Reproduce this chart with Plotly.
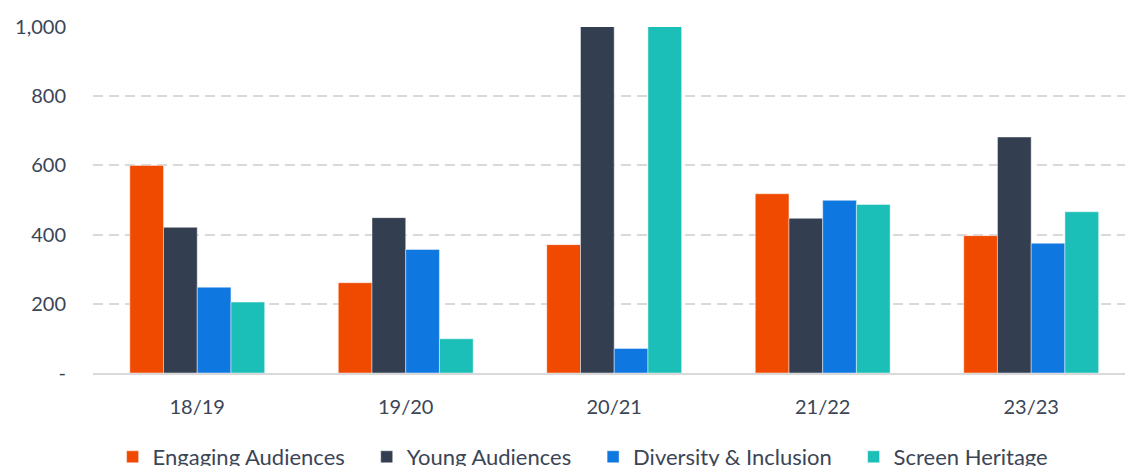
import plotly.graph_objects as go

categories = ["18/19", "19/20", "20/21", "21/22", "23/23"]
engaging = [600, 261, 371, 518, 397]
young = [421, 449, 1200, 447, 682]
diversity = [248, 357, 71, 499, 375]
heritage = [205, 99, 1200, 487, 466]

series_names = ["Engaging Audiences", "Young Audiences", "Diversity & Inclusion", "Screen Heritage"]
series_values = [engaging, young, diversity, heritage]
colors = ["#F04A00", "#333F50", "#0F78E0", "#1BBFB7"]

tick_vals = [0, 200, 400, 600, 800, 1000]
tick_text = ["-", "200", "400", "600", "800", "1,000"]

text_color = "#3B4556"
font_family = "Lato"
pad = "\u00a0" * 3

fig = go.Figure()
for name, vals, col in zip(series_names, series_values, colors):
    fig.add_trace(go.Bar(
        x=categories, y=vals, name=name + pad,
        marker=dict(color=col, line=dict(color="rgba(255,255,255,0.45)", width=1)),
    ))

fig.update_layout(
    width=1125, height=466,
    margin=dict(l=93, r=0, t=27, b=93, autoexpand=False),
    paper_bgcolor="white", plot_bgcolor="white",
    barmode="group", bargap=0.353, bargroupgap=0,
    font=dict(family=font_family, size=20, color=text_color),
    showlegend=True,
    legend=dict(
        orientation="h", x=0.019, xanchor="left", y=-0.182, yanchor="top",
        font=dict(family=font_family, size=22, color=text_color),
        itemwidth=30, traceorder="normal",
    ),
    xaxis=dict(
        range=[-0.5, 4.45], showgrid=False, showline=True, linecolor="#D9D9D9", linewidth=2,
        ticks="outside", ticklen=15, tickcolor="rgba(0,0,0,0)", tickfont=dict(size=20, color=text_color),
        zeroline=False, fixedrange=True,
    ),
    yaxis=dict(
        range=[0, 1000], tickvals=tick_vals, ticktext=tick_text,
        showgrid=True, gridcolor="#D9D9D9", gridwidth=2, griddash="10px,6px",
        zeroline=False, showline=False,
        ticks="outside", ticklen=22, tickcolor="rgba(0,0,0,0)",
        tickfont=dict(size=20, color=text_color), fixedrange=True,
    ),
)

fig.write_html("out.html")
